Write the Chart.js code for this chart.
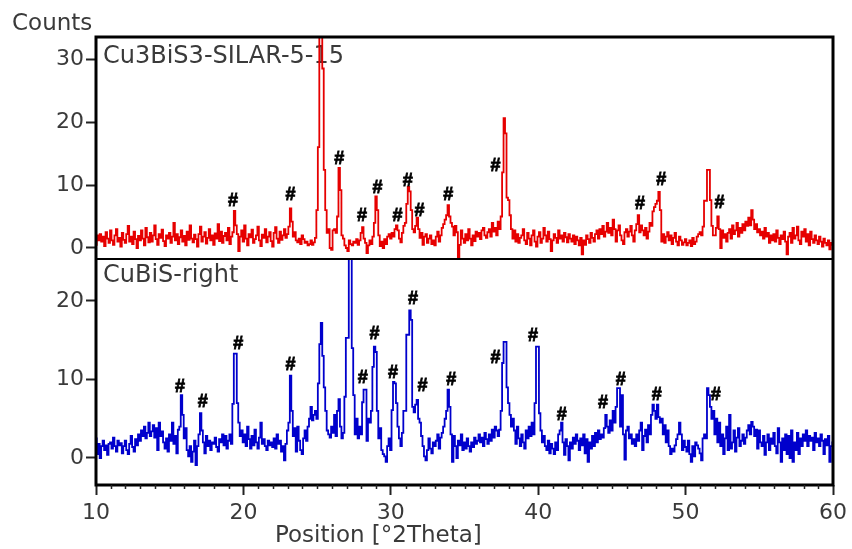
<!DOCTYPE html>
<html><head><meta charset="utf-8">
<script src="https://cdn.jsdelivr.net/npm/chart.js@4/dist/chart.umd.min.js"></script>
<style>html,body{margin:0;padding:0;background:#fff;overflow:hidden}</style>
</head><body>
<canvas id="c" width="852" height="549"></canvas>
<script>
// ---- data ----
const X_START = 10, X_STEP = 0.1;
const topCounts = [
0.5,2.0,1.2,2.2,1.0,1.8,0.3,2.5,1.5,0.8,
2.8,1.2,0.5,2.0,3.0,1.0,1.6,0.2,2.4,1.3,
0.8,2.2,3.5,1.0,1.8,0.6,2.6,1.4,0.0,1.9,
1.2,2.8,1.5,0.4,3.2,1.7,0.9,2.4,1.0,2.0,
3.6,1.4,0.5,2.2,1.6,2.9,1.1,0.3,2.0,1.5,
2.4,0.8,1.8,4.0,1.2,2.2,0.6,1.7,2.8,1.0,
1.9,0.4,2.6,1.3,3.6,1.5,0.9,2.1,1.4,0.2,
2.2,3.4,1.0,1.8,2.5,0.7,1.6,3.0,1.2,2.0,
0.5,2.3,1.5,3.8,1.1,2.6,0.8,1.9,2.4,1.2,
3.2,0.6,1.8,2.5,5.9,3.6,2.2,-0.5,1.8,2.8,
1.0,3.6,1.5,0.4,2.2,1.7,2.9,0.8,1.4,2.0,
3.4,1.2,0.3,2.1,1.6,3.0,0.9,1.8,2.5,1.1,
0.2,2.4,3.3,1.5,0.8,2.6,1.3,2.0,3.0,1.6,
2.2,3.4,6.3,4.2,1.8,2.5,1.2,0.9,1.5,0.6,
2.0,1.4,0.8,1.0,0.4,0.6,1.2,0.5,0.9,1.6,
6.0,16.0,34.0,34.0,28.5,12.4,6.0,2.4,3.0,0.0,
-0.3,2.8,3.0,2.4,5.0,12.7,9.2,2.0,1.5,0.4,
0.0,-0.5,1.2,0.6,0.4,1.0,0.8,1.4,0.5,1.2,
2.4,3.3,1.5,0.8,-0.8,0.4,1.2,0.6,1.8,4.0,
8.2,6.0,2.0,0.3,1.0,0.0,1.4,0.6,1.8,2.2,
1.5,2.4,1.8,3.0,3.6,2.8,1.5,0.9,2.4,3.5,
4.0,7.0,9.7,9.0,6.0,3.0,2.5,3.5,4.8,3.0,
1.6,2.4,0.5,1.8,2.2,0.8,1.5,2.0,0.6,1.2,
0.4,1.8,2.6,1.0,2.0,3.2,3.8,4.5,5.2,6.8,
5.0,4.0,3.4,2.0,3.5,2.5,-1.5,0.5,2.8,1.5,
0.8,2.2,1.2,3.0,1.5,0.4,2.0,1.1,2.6,1.8,
2.4,1.4,2.8,3.2,2.0,1.6,2.5,3.0,1.8,4.0,
2.6,3.2,2.0,4.2,3.0,5.0,12.0,20.6,18.2,8.0,
7.6,5.2,3.0,1.5,2.8,1.0,2.2,0.8,1.6,2.0,
3.0,1.2,0.6,2.4,1.5,0.4,2.0,2.8,1.0,0.2,
1.8,2.5,0.8,1.5,3.2,2.0,1.0,2.6,1.4,-0.5,
1.2,2.2,1.6,0.8,2.8,1.5,2.0,1.0,2.4,1.7,
0.9,2.2,1.5,1.0,2.0,0.6,1.8,1.2,0.4,1.6,
-1.0,1.2,0.5,2.0,1.4,0.8,2.4,1.6,1.0,2.2,
2.8,1.5,3.0,2.2,3.5,1.8,2.6,4.0,2.4,3.2,
2.0,4.5,3.0,1.0,2.8,3.6,2.0,1.2,0.6,2.5,
3.0,1.8,2.6,3.5,2.0,1.0,2.8,3.8,5.2,2.5,
3.6,2.8,2.0,3.2,1.5,2.6,4.0,3.5,5.8,6.5,
7.0,7.5,8.9,6.0,1.0,2.2,0.8,1.8,2.5,1.2,
2.0,0.6,1.6,2.4,1.0,0.4,1.8,1.2,0.5,0.9,
1.4,0.4,0.8,1.2,0.3,1.6,0.6,1.0,1.8,2.2,
2.5,2.0,3.4,7.5,7.5,12.4,12.4,7.6,3.5,2.0,
2.0,3.2,5.0,3.0,0.0,2.8,1.6,2.2,1.0,2.4,
3.0,1.5,3.6,2.2,2.8,4.0,1.8,3.2,2.4,3.8,
2.8,4.2,3.5,4.8,3.6,6.0,4.5,3.0,3.8,2.5,
3.0,2.0,2.6,1.5,3.2,1.8,2.4,0.8,2.0,1.2,
2.2,1.0,2.8,1.6,0.6,2.0,1.4,2.6,1.0,-1.0,
1.8,2.4,0.8,3.2,1.5,2.0,3.4,1.2,0.6,2.6,
1.8,3.0,1.0,2.2,0.4,2.6,1.4,0.8,2.0,1.2,
0.6,1.8,1.0,0.2,1.5,0.8,0.4,1.2,-0.2,0.8,
0.5];
const bottomCounts = [
2.5,0.5,1.8,0.0,1.5,2.2,1.0,1.6,0.4,1.8,
2.0,1.2,2.6,1.5,0.8,2.2,1.6,1.9,0.6,1.5,
2.2,1.0,0.5,1.8,2.8,1.4,0.8,2.4,1.6,3.0,
2.2,3.5,2.8,4.0,2.5,3.2,4.5,2.8,3.4,4.2,
2.6,3.8,1.0,4.5,2.8,3.4,2.0,1.2,2.5,0.8,
3.0,2.2,4.5,1.8,2.8,0.6,3.6,4.0,8.0,5.5,
2.5,3.8,1.0,0.2,1.5,-0.5,0.8,2.2,-0.9,1.5,
3.0,5.7,3.5,2.0,0.6,2.8,1.5,2.2,1.0,2.0,
1.8,2.6,1.4,0.8,2.4,2.0,3.0,1.6,2.8,1.2,
2.2,3.0,1.8,6.9,13.3,13.3,7.0,4.5,2.8,3.5,
2.0,3.0,1.5,4.0,2.4,1.2,2.8,1.6,3.6,2.0,
1.2,2.6,4.5,1.8,2.4,1.5,1.0,2.2,1.6,2.0,
1.4,2.5,1.2,3.0,1.8,2.2,0.8,1.5,-0.3,1.8,
3.5,4.5,10.5,6.0,2.8,3.8,0.8,4.0,2.2,1.0,
0.5,2.5,3.5,2.2,4.0,5.0,6.5,4.8,5.5,6.0,
5.0,9.5,14.5,17.2,13.0,9.0,6.0,3.5,3.0,2.6,
4.0,3.2,5.5,2.8,6.0,7.5,4.0,2.5,3.2,7.8,
15.3,15.3,26.0,26.0,14.0,8.0,3.0,5.0,2.5,4.0,
3.0,7.1,8.7,8.7,2.2,5.0,4.5,6.0,11.6,14.2,
13.5,6.0,2.5,3.8,1.0,0.5,0.2,-0.5,1.5,2.5,
1.0,6.1,9.7,9.5,7.0,4.0,2.5,1.5,3.2,6.0,
6.0,15.7,15.7,18.8,17.6,6.5,5.8,6.8,7.4,5.0,
4.5,2.8,1.5,0.2,-0.3,1.0,2.5,1.2,0.6,2.0,
1.5,2.2,3.0,1.2,2.6,3.2,4.0,5.0,6.0,8.7,
6.5,3.0,-0.5,2.8,1.5,0.0,2.2,1.6,3.0,1.0,
2.0,1.2,2.5,1.5,0.8,2.0,1.4,2.6,1.8,2.2,
3.0,2.0,2.6,1.5,3.2,2.4,1.8,3.0,2.2,3.6,
2.6,4.0,3.5,2.8,3.6,6.0,12.1,14.8,14.8,9.0,
7.0,5.5,4.0,5.0,3.5,1.8,4.0,2.5,1.5,3.0,
2.0,1.2,3.5,2.5,4.0,2.8,4.5,3.0,7.0,14.2,
14.2,5.7,3.5,2.0,2.8,1.5,1.0,2.2,0.6,1.8,
1.2,0.5,2.0,1.0,3.0,3.5,4.5,2.0,0.4,2.4,
1.5,-0.3,2.0,1.2,2.6,1.8,3.0,2.2,1.0,2.5,
1.6,3.0,0.6,2.4,-0.5,2.0,1.2,2.8,1.5,3.2,
2.0,3.5,2.4,3.0,2.6,3.8,5.5,4.0,3.2,4.8,
3.5,6.0,4.5,6.5,8.9,8.9,4.0,8.0,3.0,-0.2,
3.5,4.0,2.5,3.0,1.8,2.4,1.5,3.0,2.2,3.5,
4.5,1.0,2.8,3.6,2.0,4.2,3.0,5.5,6.8,6.0,
5.0,6.8,5.2,4.5,5.0,3.0,4.2,2.0,3.5,1.5,
0.5,1.2,0.8,1.6,2.4,3.0,4.5,3.0,1.0,2.2,
1.4,0.8,2.2,0.5,-0.5,1.5,0.2,2.0,1.6,1.2,
0.6,-0.3,2.5,3.0,2.5,8.9,8.0,6.5,5.0,6.0,
3.0,5.0,2.0,4.5,1.5,3.0,0.5,2.5,4.0,1.0,
5.5,1.2,2.0,3.5,0.8,2.6,3.8,1.5,2.2,3.0,
1.8,2.6,3.5,4.2,3.0,4.6,4.0,2.8,3.6,1.2,
3.5,2.0,1.5,2.8,0.4,2.0,3.0,1.0,2.5,1.8,
3.2,1.5,0.6,3.8,2.0,-0.5,2.5,1.0,3.0,0.5,
2.8,0.0,3.5,-0.5,2.0,1.0,3.2,0.5,2.5,1.5,
3.0,2.2,3.5,1.5,2.8,2.2,2.6,1.0,3.2,2.0,
2.5,1.5,3.0,2.2,0.5,2.4,1.6,2.8,-0.5,1.5,
2.0];
const xTicks = [10, 20, 30, 40, 50, 60];
const topTicks = [0, 10, 20, 30];
const bottomTicks = [0, 10, 20];
const topHashX = [19.3, 23.2, 26.5, 28.05, 29.1, 30.45, 31.15, 31.95, 33.9, 37.1, 46.9, 48.35, 52.3];
const topHashY = [7.5, 8.4, 14.1, 5.1, 9.5, 5.1, 10.6, 5.9, 8.4, 13.0, 7.0, 10.8, 7.1];
const botHashX = [15.7, 17.25, 19.65, 23.2, 28.1, 28.9, 30.15, 31.5, 32.15, 34.1, 37.1, 39.65, 41.6, 44.4, 45.6, 48.05, 52.05];
const botHashY = [9.0, 7.1, 14.5, 11.9, 10.2, 15.8, 10.8, 20.3, 9.2, 9.9, 12.7, 15.5, 5.5, 7.0, 9.9, 8.0, 8.0];
const topLabel = 'Cu3BiS3-SILAR-5-15';
const bottomLabel = 'CuBiS-right';
const yTitle = 'Counts';
const xTitle = 'Position [°2Theta]';

// ---- chart ----
const FONT = '"DejaVu Sans", sans-serif';
const TXT = '#3a3a3a';
const toPts = arr => arr.map((v, i) => ({x: X_START + i * X_STEP, y: v}));

const deco = {
  id: 'deco',
  beforeDatasetsDraw(chart) {
    const ctx = chart.ctx, a = chart.chartArea;
    const yT = chart.scales.yTop, yB = chart.scales.yBot;
    ctx.save();
    ctx.fillStyle = TXT;
    ctx.font = '24px ' + FONT;
    ctx.textAlign = 'left';
    ctx.textBaseline = 'alphabetic';
    ctx.fillText(topLabel, a.left + 7, yT.top + 26);
    ctx.fillText(bottomLabel, a.left + 7, yB.top + 23);
    ctx.restore();
  },
  afterDatasetsDraw(chart) {
    const ctx = chart.ctx, a = chart.chartArea;
    const x = chart.scales.x, yT = chart.scales.yTop, yB = chart.scales.yBot;
    ctx.save();
    // hash markers
    ctx.fillStyle = '#000';
    ctx.strokeStyle = '#000';
    ctx.lineWidth = 0.8;
    ctx.font = 'bold 18px "Liberation Sans", Arial, sans-serif';
    ctx.textAlign = 'center';
    ctx.textBaseline = 'middle';
    const hash = (px, py) => { ctx.fillText('#', px, py); ctx.strokeText('#', px, py); };
    topHashX.forEach((v, i) => hash(x.getPixelForValue(v), yT.getPixelForValue(topHashY[i])));
    botHashX.forEach((v, i) => hash(x.getPixelForValue(v), yB.getPixelForValue(botHashY[i])));
    // frame
    ctx.strokeStyle = '#000';
    ctx.lineWidth = 3;
    ctx.strokeRect(a.left, a.top, a.right - a.left, a.bottom - a.top);
    ctx.lineWidth = 2;
    ctx.beginPath();
    ctx.moveTo(a.left, yT.bottom);
    ctx.lineTo(a.right, yT.bottom);
    ctx.stroke();
    // minor x ticks
    ctx.strokeStyle = '#222';
    ctx.lineWidth = 1.5;
    ctx.beginPath();
    for (let v = x.min + 1; v < x.max; v += 1) {
      if (xTicks.includes(v)) continue;
      const px = Math.round(x.getPixelForValue(v)) + 0.5;
      ctx.moveTo(px, a.bottom);
      ctx.lineTo(px, a.bottom + 4);
    }
    ctx.stroke();
    // titles
    ctx.fillStyle = TXT;
    ctx.font = '23px ' + FONT;
    ctx.textAlign = 'left';
    ctx.textBaseline = 'alphabetic';
    ctx.fillText(yTitle, 12, 30);
    ctx.fillText(xTitle, 275, 542);
    ctx.restore();
  }
};

const tickFont = {family: FONT, size: 22};
new Chart(document.getElementById('c'), {
  type: 'line',
  data: {
    datasets: [
      {data: toPts(topCounts), yAxisID: 'yTop', borderColor: '#e60000', borderWidth: 1.8, pointRadius: 0, stepped: 'middle', fill: false},
      {data: toPts(bottomCounts), yAxisID: 'yBot', borderColor: '#0000cc', borderWidth: 1.8, pointRadius: 0, stepped: 'middle', fill: false}
    ]
  },
  options: {
    responsive: false,
    animation: false,
    devicePixelRatio: 1,
    layout: {padding: {left: 0, right: 16, top: 37, bottom: 0}},
    plugins: {legend: {display: false}, tooltip: {enabled: false}},
    scales: {
      x: {
        type: 'linear', position: 'bottom', min: 10, max: 60,
        afterBuildTicks: s => { s.ticks = xTicks.map(v => ({value: v})); },
        afterFit: s => { s.height = 64; },
        grid: {drawOnChartArea: false, drawTicks: true, tickLength: 10, tickWidth: 2, tickColor: '#222'},
        border: {display: false},
        ticks: {font: tickFont, color: TXT, padding: 5, maxRotation: 0, autoSkip: false}
      },
      yTop: {
        type: 'linear', position: 'left', stack: 'panels', stackWeight: 222, weight: 1,
        min: -1.75, max: 33.5,
        afterBuildTicks: s => { s.ticks = topTicks.map(v => ({value: v})); },
        afterFit: s => { s.width = 96; },
        grid: {drawOnChartArea: false, drawTicks: true, tickLength: 10, tickWidth: 2, tickColor: '#222'},
        border: {display: false},
        ticks: {font: tickFont, color: TXT, padding: 2}
      },
      yBot: {
        type: 'linear', position: 'left', stack: 'panels', stackWeight: 226, weight: 0,
        min: -3.44, max: 25.35,
        afterBuildTicks: s => { s.ticks = bottomTicks.map(v => ({value: v})); },
        afterFit: s => { s.width = 96; },
        grid: {drawOnChartArea: false, drawTicks: true, tickLength: 10, tickWidth: 2, tickColor: '#222'},
        border: {display: false},
        ticks: {font: tickFont, color: TXT, padding: 2}
      }
    }
  },
  plugins: [deco]
});
</script>
</body></html>
